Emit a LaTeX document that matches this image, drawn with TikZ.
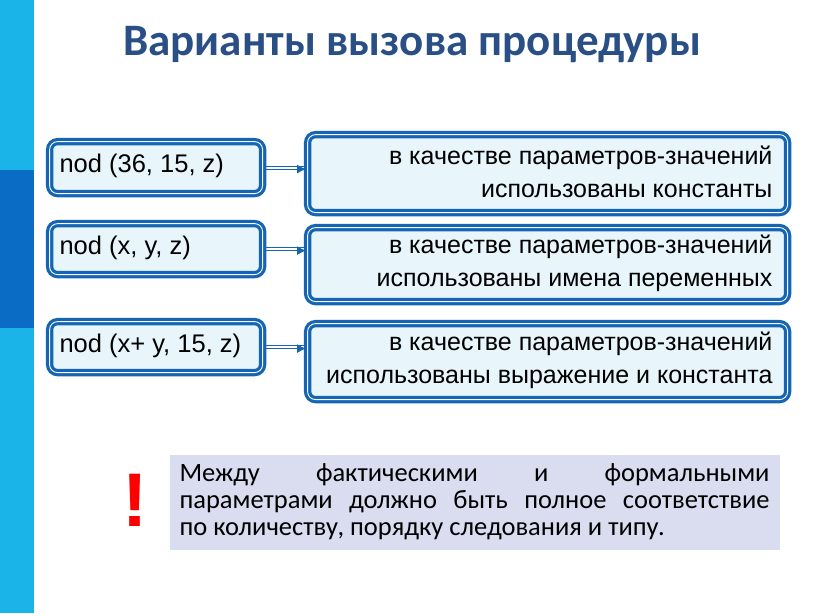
\documentclass[tikz,border=0pt]{standalone}
\usepackage{fontspec}
\usetikzlibrary{arrows.meta}
\setmainfont{Liberation Sans}
\newfontfamily\carl{Carlito}
\definecolor{lb}{HTML}{1AB4E8}
\definecolor{db}{HTML}{0A6CC4}
\definecolor{bord}{HTML}{1565B5}
\definecolor{fillb}{HTML}{E8F6FC}
\definecolor{ttl}{HTML}{2A4F85}
\definecolor{note}{HTML}{DADCF0}
\begin{document}
\begin{tikzpicture}[x=1pt,y=-1pt,
  box/.style={draw=bord,line width=3.2pt,double=white,double distance=0.9pt,fill=fillb,rounded corners=8pt,inner sep=0pt},
  arr/.style={draw=bord,line width=1pt,-{Latex[length=9pt,width=9pt]}}]
\useasboundingbox (0,0) rectangle (816,613);
\fill[white] (0,0) rectangle (816,613);
\fill[lb] (0,0) rectangle (34,613);
\fill[db] (0,170) rectangle (34,328);
\node[font=\carl\bfseries\fontsize{45}{50}\selectfont,text=ttl] at (412,45) {Варианты вызова процедуры};
\foreach \n/\ya/\yb/\yc/\yd/\t/\ra/\rb in
 {1/140/192/133/211/{nod (36, 15, z)}/{в качестве параметров-значений}/{использованы константы},
  2/222/273/226/300/{nod (x, y, z)}/{в качестве параметров-значений}/{использованы имена переменных},
  3/320/371/322/398/{nod (x+ y, 15, z)}/{в качестве параметров-значений}/{использованы выражение и константа}}{
  \node[box,minimum width=213pt,minimum height={\yb-\ya},anchor=north west] (l\n) at (48,\ya) {};
  \node[anchor=west,font=\fontsize{25.5}{30}\selectfont] at (56,{(\ya+\yb)/2}) {\t};
  \node[box,minimum width=480pt,minimum height={\yd-\yc},anchor=north west] (r\n) at (306,\yc) {};
  \node[anchor=east,align=right,font=\fontsize{25}{33}\selectfont] at (776,{(\yc+\yd)/2}) {\ra\\\rb};
  \draw[bord,line width=1pt] (l\n.east) ++(2,-1.5) coordinate (s\n) -- (s\n -| r\n.west);
  \draw[arr] (l\n.east) ++(2,1.5) coordinate (t\n) -- (t\n -| r\n.west);
}
\fill[note] (170,455) rectangle (780,550);
\node[anchor=north west,text width=590pt,align=justify,font=\carl\fontsize{26.5}{27}\selectfont] at (176,460) {Между фактическими и формальными\linebreak параметрами должно быть полное соответствие\linebreak по количеству, порядку следования и типу.};
\node[text=red,font=\fontsize{76}{76}\selectfont\bfseries] at (135,500) {!};
\end{tikzpicture}
\end{document}
